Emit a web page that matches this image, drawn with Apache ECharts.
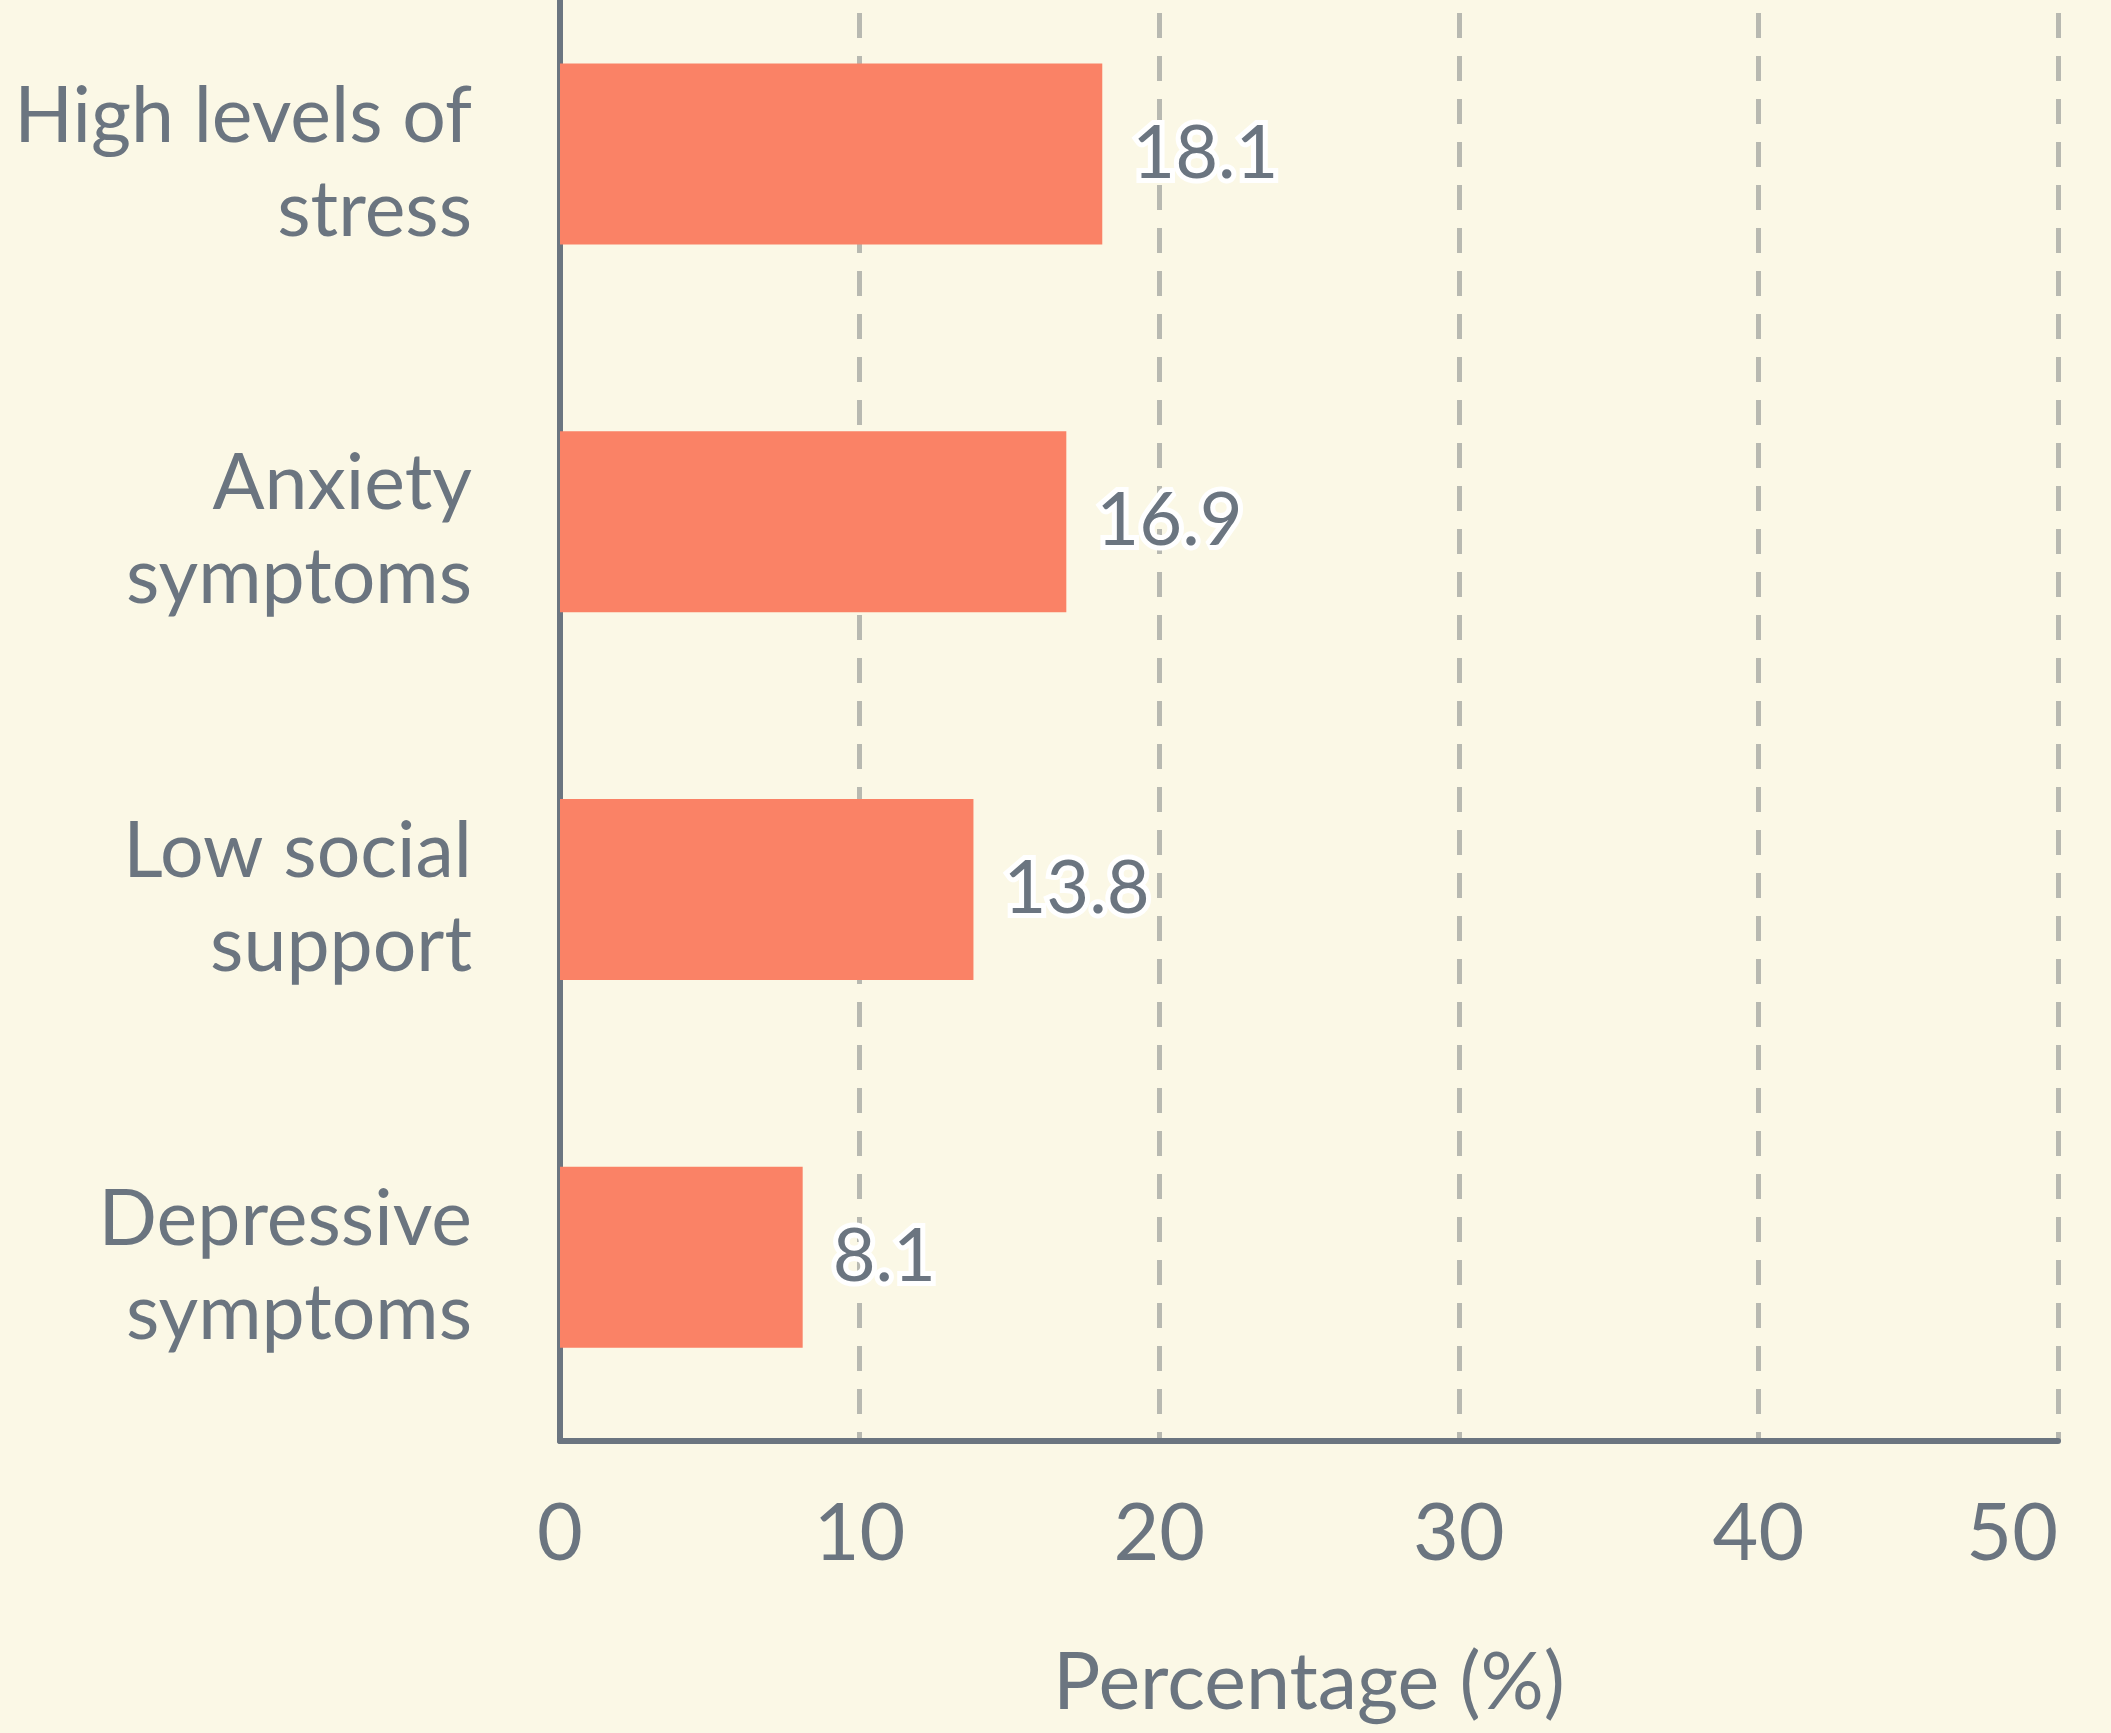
<!DOCTYPE html>
<html lang="en">
<head>
    <meta charset="UTF-8">
    <title>Percentage</title>
    <script src="https://cdn.jsdelivr.net/npm/echarts@6/dist/echarts.min.js"></script>
    <style>
        html, body { margin: 0; padding: 0; background: #fbf8e6; }
    </style>
</head>
<body>

<div id="bar_wrap" style="width: 2111px; height: 1733px;"></div>

<script>
    var categories = ["High levels of\nstress", "Anxiety\nsymptoms", "Low social\nsupport", "Depressive\nsymptoms"];
    var values = [18.1, 16.9, 13.8, 8.1];
    var x_ticks = [0, 10, 20, 30, 40, 50];

    var text_color = "#6b7580";

    var bar_obj = document.getElementById("bar_wrap");
    var myBar = echarts.init(bar_obj);

    // small empty line on top pushes the two label lines down a little
    function catLabel(value) {
        var lines = value.split("\n");
        var out = ["{s| }"];
        for (var i = 0; i < lines.length; i++) {
            out.push("{a|" + lines[i] + "}");
        }
        return out.join("\n");
    }

    var option = {
        backgroundColor: "#fbf8e6",
        animation: false,
        grid: {
            left: 560,
            right: 53,
            top: -30,
            bottom: 292,
            containLabel: false,
            outerBoundsMode: "none"
        },
        xAxis: {
            type: "value",
            min: x_ticks[0],
            max: x_ticks[x_ticks.length - 1],
            interval: x_ticks[1] - x_ticks[0],
            name: "Percentage (%)",
            nameLocation: "middle",
            nameGap: 203,
            nameTextStyle: {
                color: text_color,
                fontFamily: "Lato",
                fontSize: 79
            },
            axisLine: {
                show: true,
                lineStyle: { color: text_color, width: 6 }
            },
            axisTick: { show: false },
            axisLabel: {
                color: text_color,
                fontFamily: "Lato",
                fontSize: 79,
                margin: 54,
                alignMaxLabel: "right"
            },
            splitLine: {
                show: true,
                lineStyle: {
                    color: "#b8b9b1",
                    width: 5,
                    type: [25, 18]
                }
            }
        },
        yAxis: {
            type: "category",
            data: categories,
            inverse: true,
            axisLine: {
                show: true,
                lineStyle: { color: text_color, width: 6 }
            },
            axisTick: { show: false },
            axisLabel: {
                margin: 88,
                align: "right",
                formatter: catLabel,
                rich: {
                    s: { fontSize: 4, lineHeight: 20 },
                    a: {
                        color: text_color,
                        fontFamily: "Lato",
                        fontSize: 77,
                        lineHeight: 94,
                        align: "right"
                    }
                }
            },
            splitLine: { show: false }
        },
        series: [
            {
                type: "bar",
                data: values,
                barWidth: 181,
                itemStyle: { color: "#fa8266" },
                label: {
                    show: true,
                    position: "right",
                    distance: 30,
                    color: text_color,
                    fontFamily: "Lato",
                    fontSize: 74,
                    textBorderColor: "#ffffff",
                    textBorderWidth: 10
                }
            }
        ]
    };

    myBar.setOption(option);
</script>
</body>
</html>
